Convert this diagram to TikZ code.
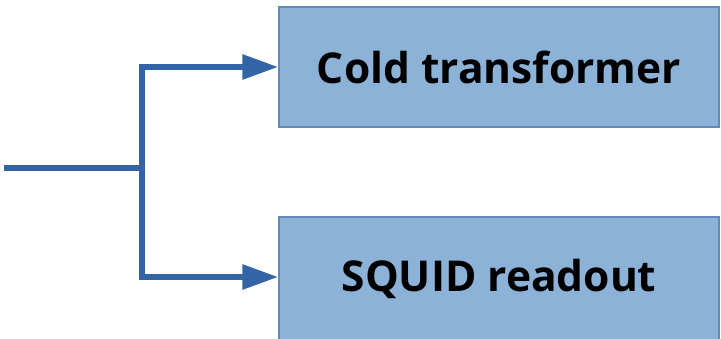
\documentclass[tikz,border=0pt]{standalone}
\usepackage{fontspec}
\setmainfont{Open Sans}
\usetikzlibrary{arrows.meta}
\definecolor{linec}{RGB}{51,101,166}
\definecolor{boxfill}{RGB}{141,178,216}
\definecolor{boxdraw}{RGB}{98,138,190}
\tikzset{
  blockbox/.style={draw=boxdraw, line width=1.5pt, fill=boxfill, minimum width=440pt, minimum height=120pt, inner sep=0pt, font=\fontsize{42.5}{50}\selectfont\bfseries},
  conn/.style={draw=linec, line width=6pt},
  connarrow/.style={conn, -{Triangle[length=36pt,width=24pt]}}
}
\begin{document}
\begin{tikzpicture}[x=1pt,y=1pt]
\useasboundingbox (0,0) rectangle (721,338);
\node[blockbox] (cold) at (499,271) {Cold transformer};
\node[blockbox, minimum height=124pt] (squid) at (499,59) {SQUID readout};
\coordinate (in) at (4,170);
\coordinate (j) at (142,170);
\draw[conn] (in) -- ([xshift=3pt]j);
\draw[connarrow] (j) |- (cold.west);
\draw[connarrow] (j) |- (squid.west|-0,61);
\end{tikzpicture}
\end{document}
